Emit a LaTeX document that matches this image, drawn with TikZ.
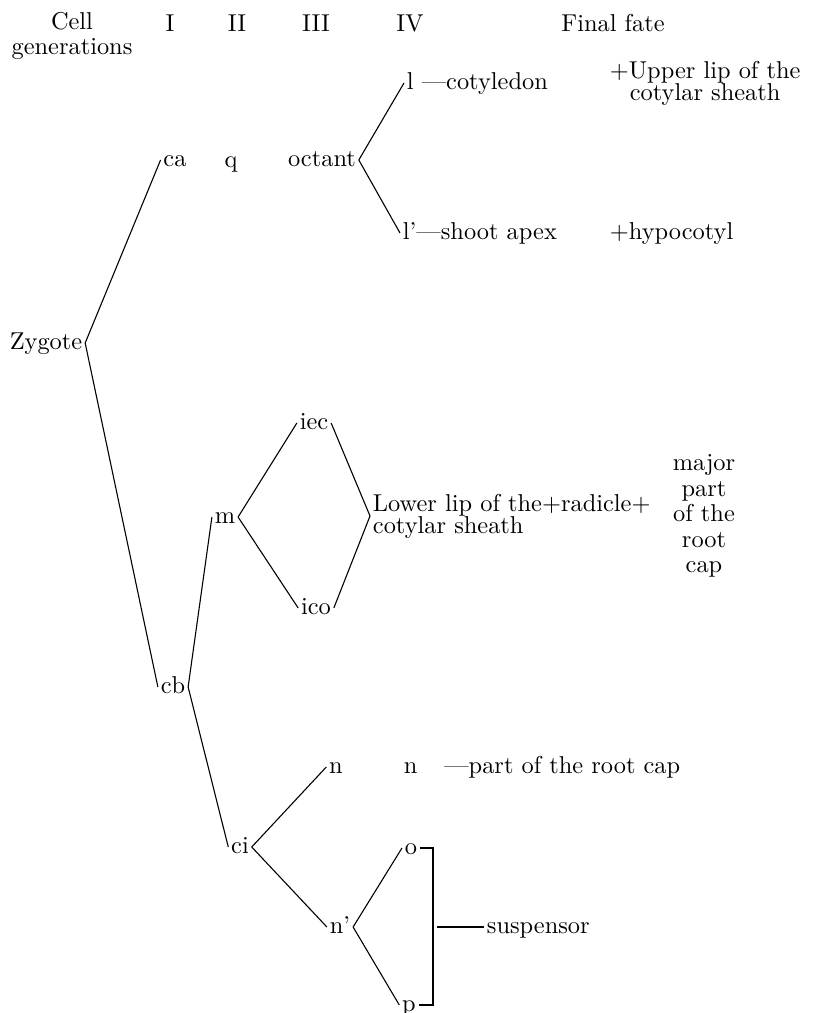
\documentclass[tikz,border=0pt]{standalone}
\tikzset{
  cell/.style={inner sep=1pt, text height=1.5ex, text depth=.25ex},
  fate/.style={inner sep=1pt, anchor=west, text height=1.5ex, text depth=.25ex},
  block/.style={inner sep=1pt, font=\fontsize{10pt}{9pt}\selectfont},
  link/.style={line width=0.45pt}
}
\begin{document}
\begin{tikzpicture}[x=0.41pt,y=-0.41pt]
   \useasboundingbox (0,0) rectangle (814,1013);
   \node[align=center,font=\fontsize{10pt}{10.5pt}\selectfont] (cellgen) at (72,36) {Cell\\generations};
   \node[cell] (genI) at (170,25) {I};
   \node[cell] (genII) at (237,25) {II};
   \node[cell] (genIII) at (316,25) {III};
   \node[cell] (genIV) at (410,25) {IV};
   \node[cell] (finalfate) at (613,25) {Final fate};

   \node[cell] (zyg) at (46,343) {Zygote};
   \node[cell] (ca) at (175,160) {ca};
   \node[cell] (q) at (231,161) {q};
   \node[cell] (oct) at (322,160) {octant};
   \node[fate] (l) at (404,83) {l \textemdash cotyledon};
   \node[block,anchor=west,align=center] (upper) at (607,83) {+Upper lip of the\\cotylar sheath};
   \node[fate] (lp) at (400,233) {l'\textemdash shoot apex};
   \node[fate] (hypo) at (607,233) {+hypocotyl};

   \node[cell] (cb) at (173,687) {cb};
   \node[cell] (m) at (225,517) {m};
   \node[cell] (iec) at (314,423) {iec};
   \node[cell] (ico) at (316,608) {ico};
   \node[block,anchor=west,align=left] (lower) at (370,516) {Lower lip of the+radicle+\\cotylar sheath};
   \node[align=center,inner sep=1pt,font=\fontsize{10pt}{10.5pt}\selectfont] (major) at (704,516) {major\\part\\of the\\root\\cap};

   \node[cell] (ci) at (240,847) {ci};
   \node[cell] (n) at (336,767) {n};
   \node[fate] (nfate) at (401,767) {n\hspace{11pt}\textemdash part of the root cap};
   \node[cell] (np) at (340,927) {n'};
   \node[cell] (o) at (411,848) {o};
   \node[cell] (p) at (409,1005) {p};
   \node[fate] (susp) at (484,927) {suspensor};
   \coordinate (bar) at (437,927);

   \draw[link] (zyg.east) -- (ca.west);
   \draw[link] (zyg.east) -- (cb.west);
   \draw[link] (oct.east) -- (l.west);
   \draw[link] (oct.east) -- (lp.west);
   \draw[link] (cb.east) -- (m.west);
   \draw[link] (cb.east) -- (ci.west);
   \draw[link] (m.east) -- (iec.west);
   \draw[link] (m.east) -- (ico.west);
   \draw[link] (iec.east) -- (lower.west);
   \draw[link] (ico.east) -- (lower.west);
   \draw[link] (ci.east) -- (n.west);
   \draw[link] (ci.east) -- (np.west);
   \draw[link] (np.east) -- (o.west);
   \draw[link] (np.east) -- (p.west);
   \draw[link] (o.east) -- ++(13,0) |- (p.east);
   \draw[link] (bar) -- (susp.west);
  \end{tikzpicture}
\end{document}
